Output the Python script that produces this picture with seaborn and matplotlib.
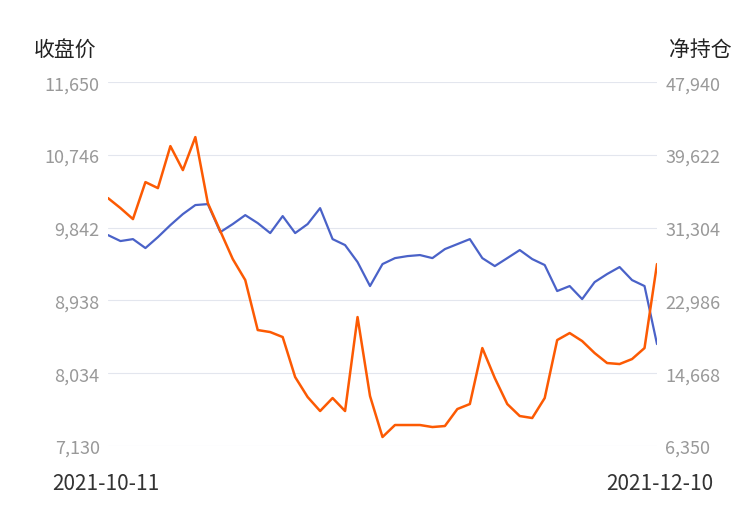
import matplotlib
matplotlib.use('Agg')
import matplotlib.pyplot as plt
import seaborn as sns

close_price = [9750, 9676, 9700, 9589, 9725, 9874, 10011, 10123, 10135, 9787,
               9887, 9998, 9899, 9775, 9986, 9775, 9887, 10085, 9700, 9626,
               9415, 9117, 9390, 9464, 9489, 9502, 9464, 9576, 9638, 9700,
               9464, 9365, 9464, 9564, 9452, 9378, 9055, 9117, 8955, 9166,
               9266, 9353, 9191, 9117, 8396]
net_position = [34686, 33543, 32286, 36514, 35828, 40627, 37885, 41656, 34115, 30915,
                27716, 25317, 19604, 19375, 18804, 14233, 11948, 10348, 11834, 10348,
                21089, 12062, 7378, 8749, 8749, 8749, 8520, 8635, 10577, 11148,
                17547, 14119, 11148, 9777, 9549, 11834, 18461, 19261, 18347, 16976,
                15833, 15719, 16290, 17547, 27145]
left_ticks = [7130, 8034, 8938, 9842, 10746, 11650]
right_ticks = [6350, 14668, 22986, 31304, 39622, 47940]
start_label, end_label = '2021-10-11', '2021-12-10'

sns.set_style('white')
plt.rcParams['font.family'] = ['Noto Sans CJK SC', 'DejaVu Sans']

idx = list(range(len(close_price)))
fig = plt.figure(figsize=(7.5, 5.1), dpi=100)
ax = fig.add_axes([0.144, 0.1235, 0.732, 0.7135])
sns.lineplot(x=idx, y=close_price, ax=ax, color='#4a62c8', linewidth=1.6)
ax2 = ax.twinx()
sns.lineplot(x=idx, y=net_position, ax=ax2, color='#fc5a03', linewidth=1.8)

ax.set_xlim(0, len(idx) - 1)
ax.set_ylim(left_ticks[0], left_ticks[-1])
ax2.set_ylim(right_ticks[0], right_ticks[-1])
ax.set_yticks(left_ticks)
ax.set_yticklabels([f'{v:,}' for v in left_ticks])
ax2.set_yticks(right_ticks)
ax2.set_yticklabels([f'{v:,}' for v in right_ticks])
ax.set_xticks([])
ax.grid(axis='y', color='#e3e6ee', linewidth=0.8)
ax.set_axisbelow(True)
for a in (ax, ax2):
    a.tick_params(axis='y', length=0, labelsize=13, colors='#999999', pad=6)
    for s in a.spines.values():
        s.set_visible(False)

fig.text(0.045, 0.89, '收盘价', fontsize=15, color='#222222')
fig.text(0.975, 0.89, '净持仓', fontsize=15, color='#222222', ha='right')
fig.text(0.069, 0.04, start_label, fontsize=15, color='#333333')
fig.text(0.951, 0.04, end_label, fontsize=15, color='#333333', ha='right')

fig.savefig('out.png', dpi=100)
